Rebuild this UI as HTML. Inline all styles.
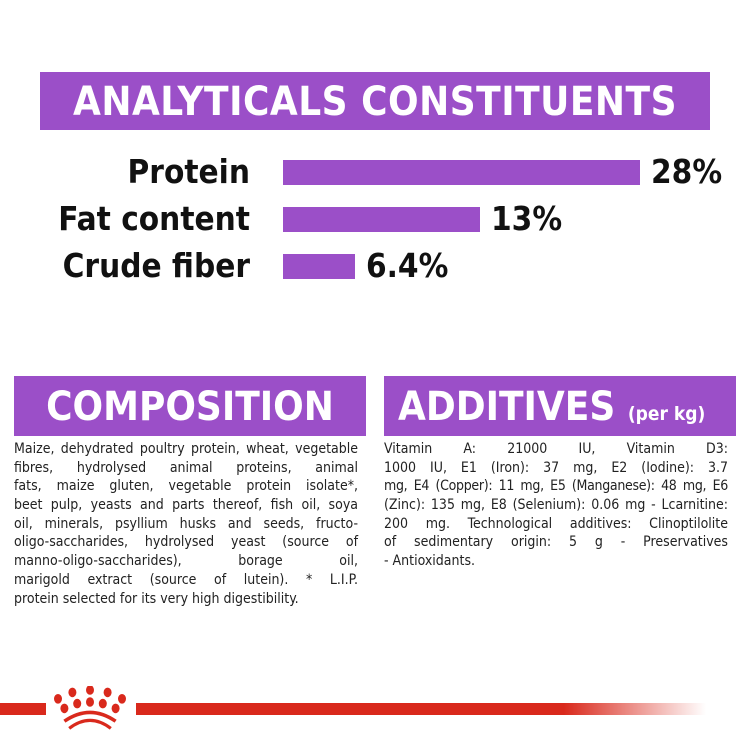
<!DOCTYPE html><html><head><style>
body{margin:0;width:750px;height:750px;background:#fff;position:relative;overflow:hidden;font-family:"DejaVu Sans Condensed","Liberation Sans",sans-serif}
.a{position:absolute}
.ban{background:#9b4fc8;color:#fff;font-weight:bold;white-space:nowrap}
.lbl{font-weight:bold;font-size:33px;color:#111;text-align:right;width:250px;left:0;line-height:40px}
.bar{background:#9b4fc8;left:283px;height:25px}
.pct{font-weight:bold;font-size:33px;color:#111;line-height:40px}
.txt{font-size:14px;line-height:18.7px;color:#222;font-family:"DejaVu Sans Condensed","Liberation Sans Narrow",sans-serif}
.txt div{text-align:justify;text-align-last:justify;white-space:nowrap;height:18.7px}
.txt div.l{text-align-last:left}
</style></head><body>
<div class="a ban" style="left:40px;top:72px;width:670px;height:58px;font-size:40px;line-height:60px;text-align:center;letter-spacing:0.5px">ANALYTICALS CONSTITUENTS</div>
<div class="a lbl" style="top:152px">Protein</div>
<div class="a bar" style="top:160px;width:357px"></div>
<div class="a pct" style="top:152px;left:651px">28%</div>
<div class="a lbl" style="top:199px">Fat content</div>
<div class="a bar" style="top:207px;width:197px"></div>
<div class="a pct" style="top:199px;left:491px">13%</div>
<div class="a lbl" style="top:246px">Crude fiber</div>
<div class="a bar" style="top:254px;width:72px"></div>
<div class="a pct" style="top:246px;left:366px">6.4%</div>
<div class="a ban" style="left:14px;top:376px;width:352px;height:60px;font-size:40px;line-height:62px;text-align:center">COMPOSITION</div>
<div class="a ban" style="left:384px;top:376px;width:352px;height:60px;font-size:40px;line-height:62px;padding-left:14px;box-sizing:border-box">ADDITIVES <span style="font-size:19px">(per kg)</span></div>
<div class="a txt" style="left:14px;top:440px;width:344px">
<div>Maize, dehydrated poultry protein, wheat, vegetable</div>
<div>fibres, hydrolysed animal proteins, animal</div>
<div>fats, maize gluten, vegetable protein isolate*,</div>
<div>beet pulp, yeasts and parts thereof, fish oil, soya</div>
<div>oil, minerals, psyllium husks and seeds, fructo-</div>
<div>oligo-saccharides, hydrolysed yeast (source of</div>
<div>manno-oligo-saccharides), borage oil,</div>
<div>marigold extract (source of lutein). * L.I.P.</div>
<div class="l">protein selected for its very high digestibility.</div>
</div>
<div class="a txt" style="left:384px;top:440px;width:344px">
<div>Vitamin A: 21000 IU, Vitamin D3:</div>
<div>1000 IU, E1 (Iron): 37 mg, E2 (Iodine): 3.7</div>
<div style="letter-spacing:-0.3px">mg, E4 (Copper): 11 mg, E5 (Manganese): 48 mg, E6</div>
<div>(Zinc): 135 mg, E8 (Selenium): 0.06 mg - Lcarnitine:</div>
<div>200 mg. Technological additives: Clinoptilolite</div>
<div>of sedimentary origin: 5 g - Preservatives</div>
<div class="l">- Antioxidants.</div>
</div>
<div class="a" style="left:0;top:703px;width:46px;height:12px;background:#d9291c"></div>
<div class="a" style="left:136px;top:703px;width:570px;height:12px;background:linear-gradient(90deg,#d9291c 0,#d9291c 75%,rgba(217,41,28,0) 100%)"></div>
<svg class="a" style="left:50px;top:686px" width="80" height="44" viewBox="0 0 100 55" fill="#d9291c">
<ellipse cx="10" cy="16" rx="5" ry="6"/><ellipse cx="28" cy="8" rx="5" ry="6"/><ellipse cx="50" cy="5" rx="5" ry="6"/><ellipse cx="72" cy="8" rx="5" ry="6"/><ellipse cx="90" cy="16" rx="5" ry="6"/>
<ellipse cx="18" cy="28" rx="5" ry="6"/><ellipse cx="34" cy="22" rx="5" ry="6"/><ellipse cx="50" cy="20" rx="5" ry="6"/><ellipse cx="66" cy="22" rx="5" ry="6"/><ellipse cx="82" cy="28" rx="5" ry="6"/>
<path d="M18 44 Q50 22 82 44" stroke="#d9291c" stroke-width="4.5" fill="none"/><path d="M24 53 Q50 33 76 53" stroke="#d9291c" stroke-width="4" fill="none"/></svg>
</body></html>
